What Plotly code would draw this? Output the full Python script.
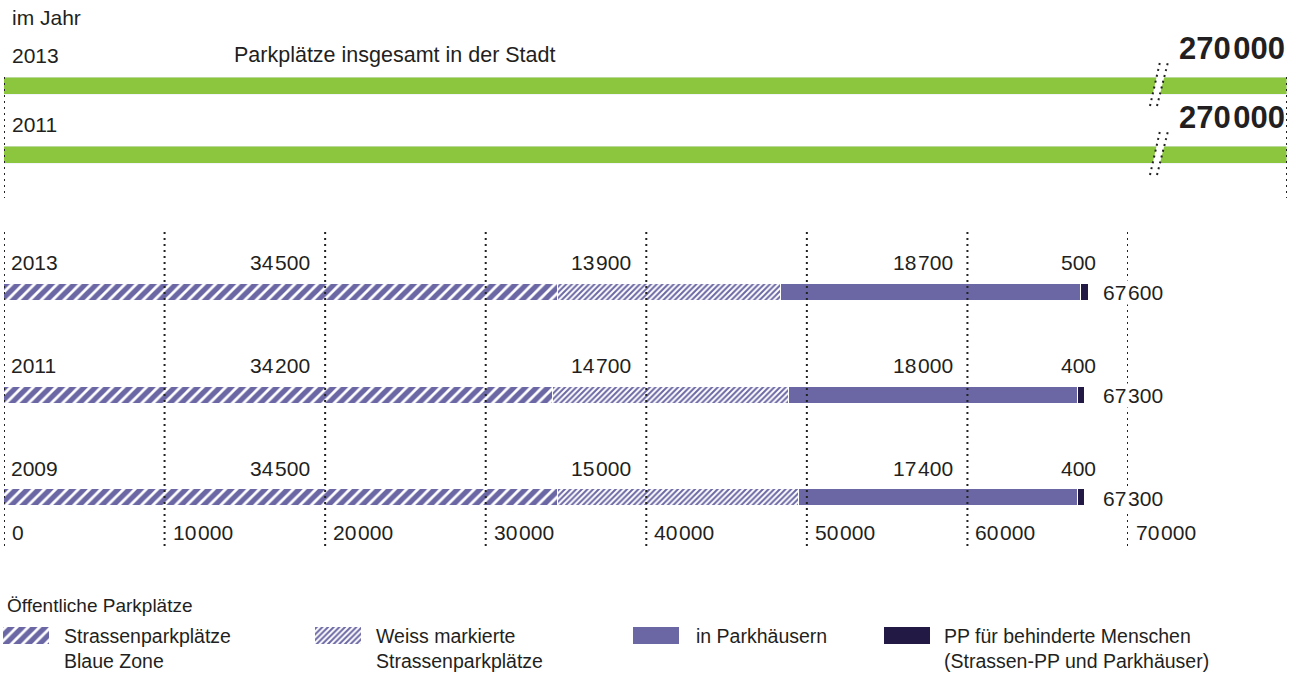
import plotly.graph_objects as go

W, H = 1301, 675

# top: all parking spaces in the city
total_years = ["2011", "2013"]
total_values = [270000, 270000]

# bottom: public parking spaces
years = ["2009", "2011", "2013"]
blue_zone = [34500, 34200, 34500]
white_marked = [15000, 14700, 13900]
garages = [17400, 18000, 18700]
disabled = [400, 400, 500]
totals = [67300, 67300, 67600]

ticks = [0, 10000, 20000, 30000, 40000, 50000, 60000, 70000]

series_names = [
    "Strassenparkplätze<br>Blaue Zone",
    "Weiss markierte<br>Strassenparkplätze",
    "in Parkhäusern",
    "PP für behinderte Menschen<br>(Strassen-PP und Parkhäuser)",
]

GREEN = "#8cc63f"
PURPLE = "#6b67a4"
DARK = "#221a44"
TXT = "#231f20"
DOTS = "#222222"
DOT_DASH = "2px,4px"
FONT = "Liberation Sans, Arial, sans-serif"


def px(x):
    return x / W


def py(y):
    return 1 - y / H


def fmt(v):
    # tight thousands gap like the original typesetting
    return f"{v:,}".replace(",", "\u200a")


markers = [
    dict(color=PURPLE, pattern=dict(shape="/", size=8, solidity=0.65, fgcolor=PURPLE, bgcolor="white",
                                    fgopacity=1),
         line=dict(color="white", width=1)),
    dict(color=PURPLE, pattern=dict(shape="/", size=4, solidity=0.5, fgcolor=PURPLE, bgcolor="white",
                                    fgopacity=1),
         line=dict(color="white", width=1)),
    dict(color=PURPLE, line=dict(color="white", width=1)),
    dict(color=DARK, line=dict(color="white", width=1)),
]
series_values = [blue_zone, white_marked, garages, disabled]

fig = go.Figure()

# bottom stacked bars
for name, vals, mk in zip(series_names, series_values, markers):
    fig.add_trace(go.Bar(y=years, x=vals, orientation="h", name=name, marker=mk,
                         width=0.165, showlegend=False, hoverinfo="x+name",
                         xaxis="x", yaxis="y"))

# top green bars
fig.add_trace(go.Bar(y=total_years, x=total_values, orientation="h", marker=dict(color=GREEN),
                     width=0.26, showlegend=False, xaxis="x2", yaxis="y2",
                     name="Parkplätze insgesamt"))

# legend swatches
leg_x = [3, 315, 633, 884]
leg_text_x = [62, 374, 694, 942]
for i, (name, mk) in enumerate(zip(series_names, markers)):
    m = dict(mk)
    m["line"] = dict(width=0)
    fig.add_trace(go.Bar(y=[0.5], x=[46], base=[leg_x[i]], orientation="h", marker=m,
                         width=1, showlegend=False, hoverinfo="skip",
                         xaxis="x3", yaxis="y3"))

ann = []
shapes = []


def text(x, y, s, xref="paper", yref="paper", xanchor="left", size=21, **kw):
    ann.append(dict(x=x, y=y, xref=xref, yref=yref, text=s, showarrow=False,
                    xanchor=xanchor, yanchor="middle", font=dict(family=FONT, size=size, color=TXT), **kw))


# top chart texts (category axes -> use index positions)
text(px(10), py(18), "im Jahr")
for k, (yr, v) in enumerate(zip(total_years, total_values)):
    text(0, k, yr, xref="x2", yref="y2", xshift=6, yshift=31)
    text(v, k, "<b>" + fmt(v) + "</b>", xref="x2", yref="y2", xanchor="right", xshift=0, yshift=38, size=31)
text(px(232), len(total_years) - 1, "Parkplätze insgesamt in der Stadt", yref="y2", yshift=31, size=21.5)

# top side dotted lines
for xv in [0, total_values[0]]:
    shapes.append(dict(type="line", xref="x2", yref="paper", x0=xv, x1=xv, y0=py(77), y1=py(198),
                       line=dict(color=DOTS, width=2, dash=DOT_DASH)))

# axis break marks
for yc in [86, 155]:
    xb1, xt1 = 1150, 1160
    xb2, xt2 = 1157, 1168
    yb, yt = yc + 20, yc - 24

    def xa(xb, xt, y):
        return xb + (yb - y) * (xt - xb) / (yb - yt)

    y_lo, y_hi = yc + 10, yc - 10
    path = (f"M {px(xa(xb1, xt1, y_lo))},{py(y_lo)} L {px(xa(xb2, xt2, y_lo))},{py(y_lo)} "
            f"L {px(xa(xb2, xt2, y_hi))},{py(y_hi)} L {px(xa(xb1, xt1, y_hi))},{py(y_hi)} Z")
    shapes.append(dict(type="path", xref="paper", yref="paper", path=path,
                       fillcolor="white", line=dict(width=0), layer="above"))
    for xb, xt in [(xb1, xt1), (xb2, xt2)]:
        shapes.append(dict(type="line", xref="paper", yref="paper", x0=px(xb), x1=px(xt),
                           y0=py(yb), y1=py(yt), layer="above",
                           line=dict(color=DOTS, width=2, dash=DOT_DASH)))

# bottom chart gridlines on top of bars
for t in ticks:
    shapes.append(dict(type="line", xref="x", yref="paper", x0=t, x1=t, y0=py(546), y1=py(232),
                       layer="above", line=dict(color=DOTS, width=2, dash=DOT_DASH)))
    text(t, py(532), fmt(t), xref="x", xshift=6)

# bottom labels
label_cols = [20000, 40000, 60000, 70000]
label_shift = [-13, -13, -12, -30]
for j, yr in enumerate(years):
    text(0, j, yr, xref="x", yref="y", xshift=5, yshift=30)
    for i, vals in enumerate(series_values):
        text(label_cols[i], j, fmt(vals[j]), xref="x", yref="y", xanchor="right",
             xshift=label_shift[i], yshift=30)
    text(68350, j, fmt(totals[j]), xref="x", yref="y", bgcolor="white", borderpad=0)

# legend
text(px(5), py(605), "Öffentliche Parkplätze", size=19)
for i, name in enumerate(series_names):
    ann.append(dict(x=px(leg_text_x[i]), y=py(623), xref="paper", yref="paper", text=name,
                    showarrow=False, xanchor="left", yanchor="top", align="left",
                    font=dict(family=FONT, size=19.5, color=TXT)))

# category centre pixels for the axes
top_c = [155, 86]         # 2011, 2013
bot_c = [498, 395.5, 292.5]  # 2009, 2011, 2013
top_step = top_c[0] - top_c[1]
bot_step = (bot_c[0] - bot_c[2]) / 2

fig.update_layout(
    width=W, height=H,
    margin=dict(l=0, r=0, t=0, b=0),
    paper_bgcolor="white", plot_bgcolor="rgba(0,0,0,0)",
    barmode="stack", bargap=0,
    font=dict(family=FONT, color=TXT),
    xaxis=dict(domain=[px(4), px(1128)], range=[0, 70000], visible=False, fixedrange=True),
    yaxis=dict(domain=[py(bot_c[0] + bot_step / 2), py(bot_c[2] - bot_step / 2)],
               range=[-0.5, 2.5], type="category", categoryorder="array", categoryarray=years,
               visible=False, fixedrange=True),
    xaxis2=dict(domain=[px(4), px(1287)], range=[0, 270000], visible=False, anchor="y2", fixedrange=True),
    yaxis2=dict(domain=[py(top_c[0] + top_step / 2), py(top_c[1] - top_step / 2)],
                range=[-0.5, 1.5], type="category", categoryorder="array", categoryarray=total_years,
                visible=False, anchor="x2", fixedrange=True),
    xaxis3=dict(domain=[0, 1], range=[0, W], visible=False, anchor="y3", fixedrange=True),
    yaxis3=dict(domain=[py(644), py(627)], range=[0, 1], visible=False, anchor="x3", fixedrange=True),
    annotations=ann,
    shapes=shapes,
)

# drop the browser's default body margin so the figure sits at the window origin
fig.write_html("out.html", config={"displayModeBar": False},
               post_script="document.body.style.margin='0';")
